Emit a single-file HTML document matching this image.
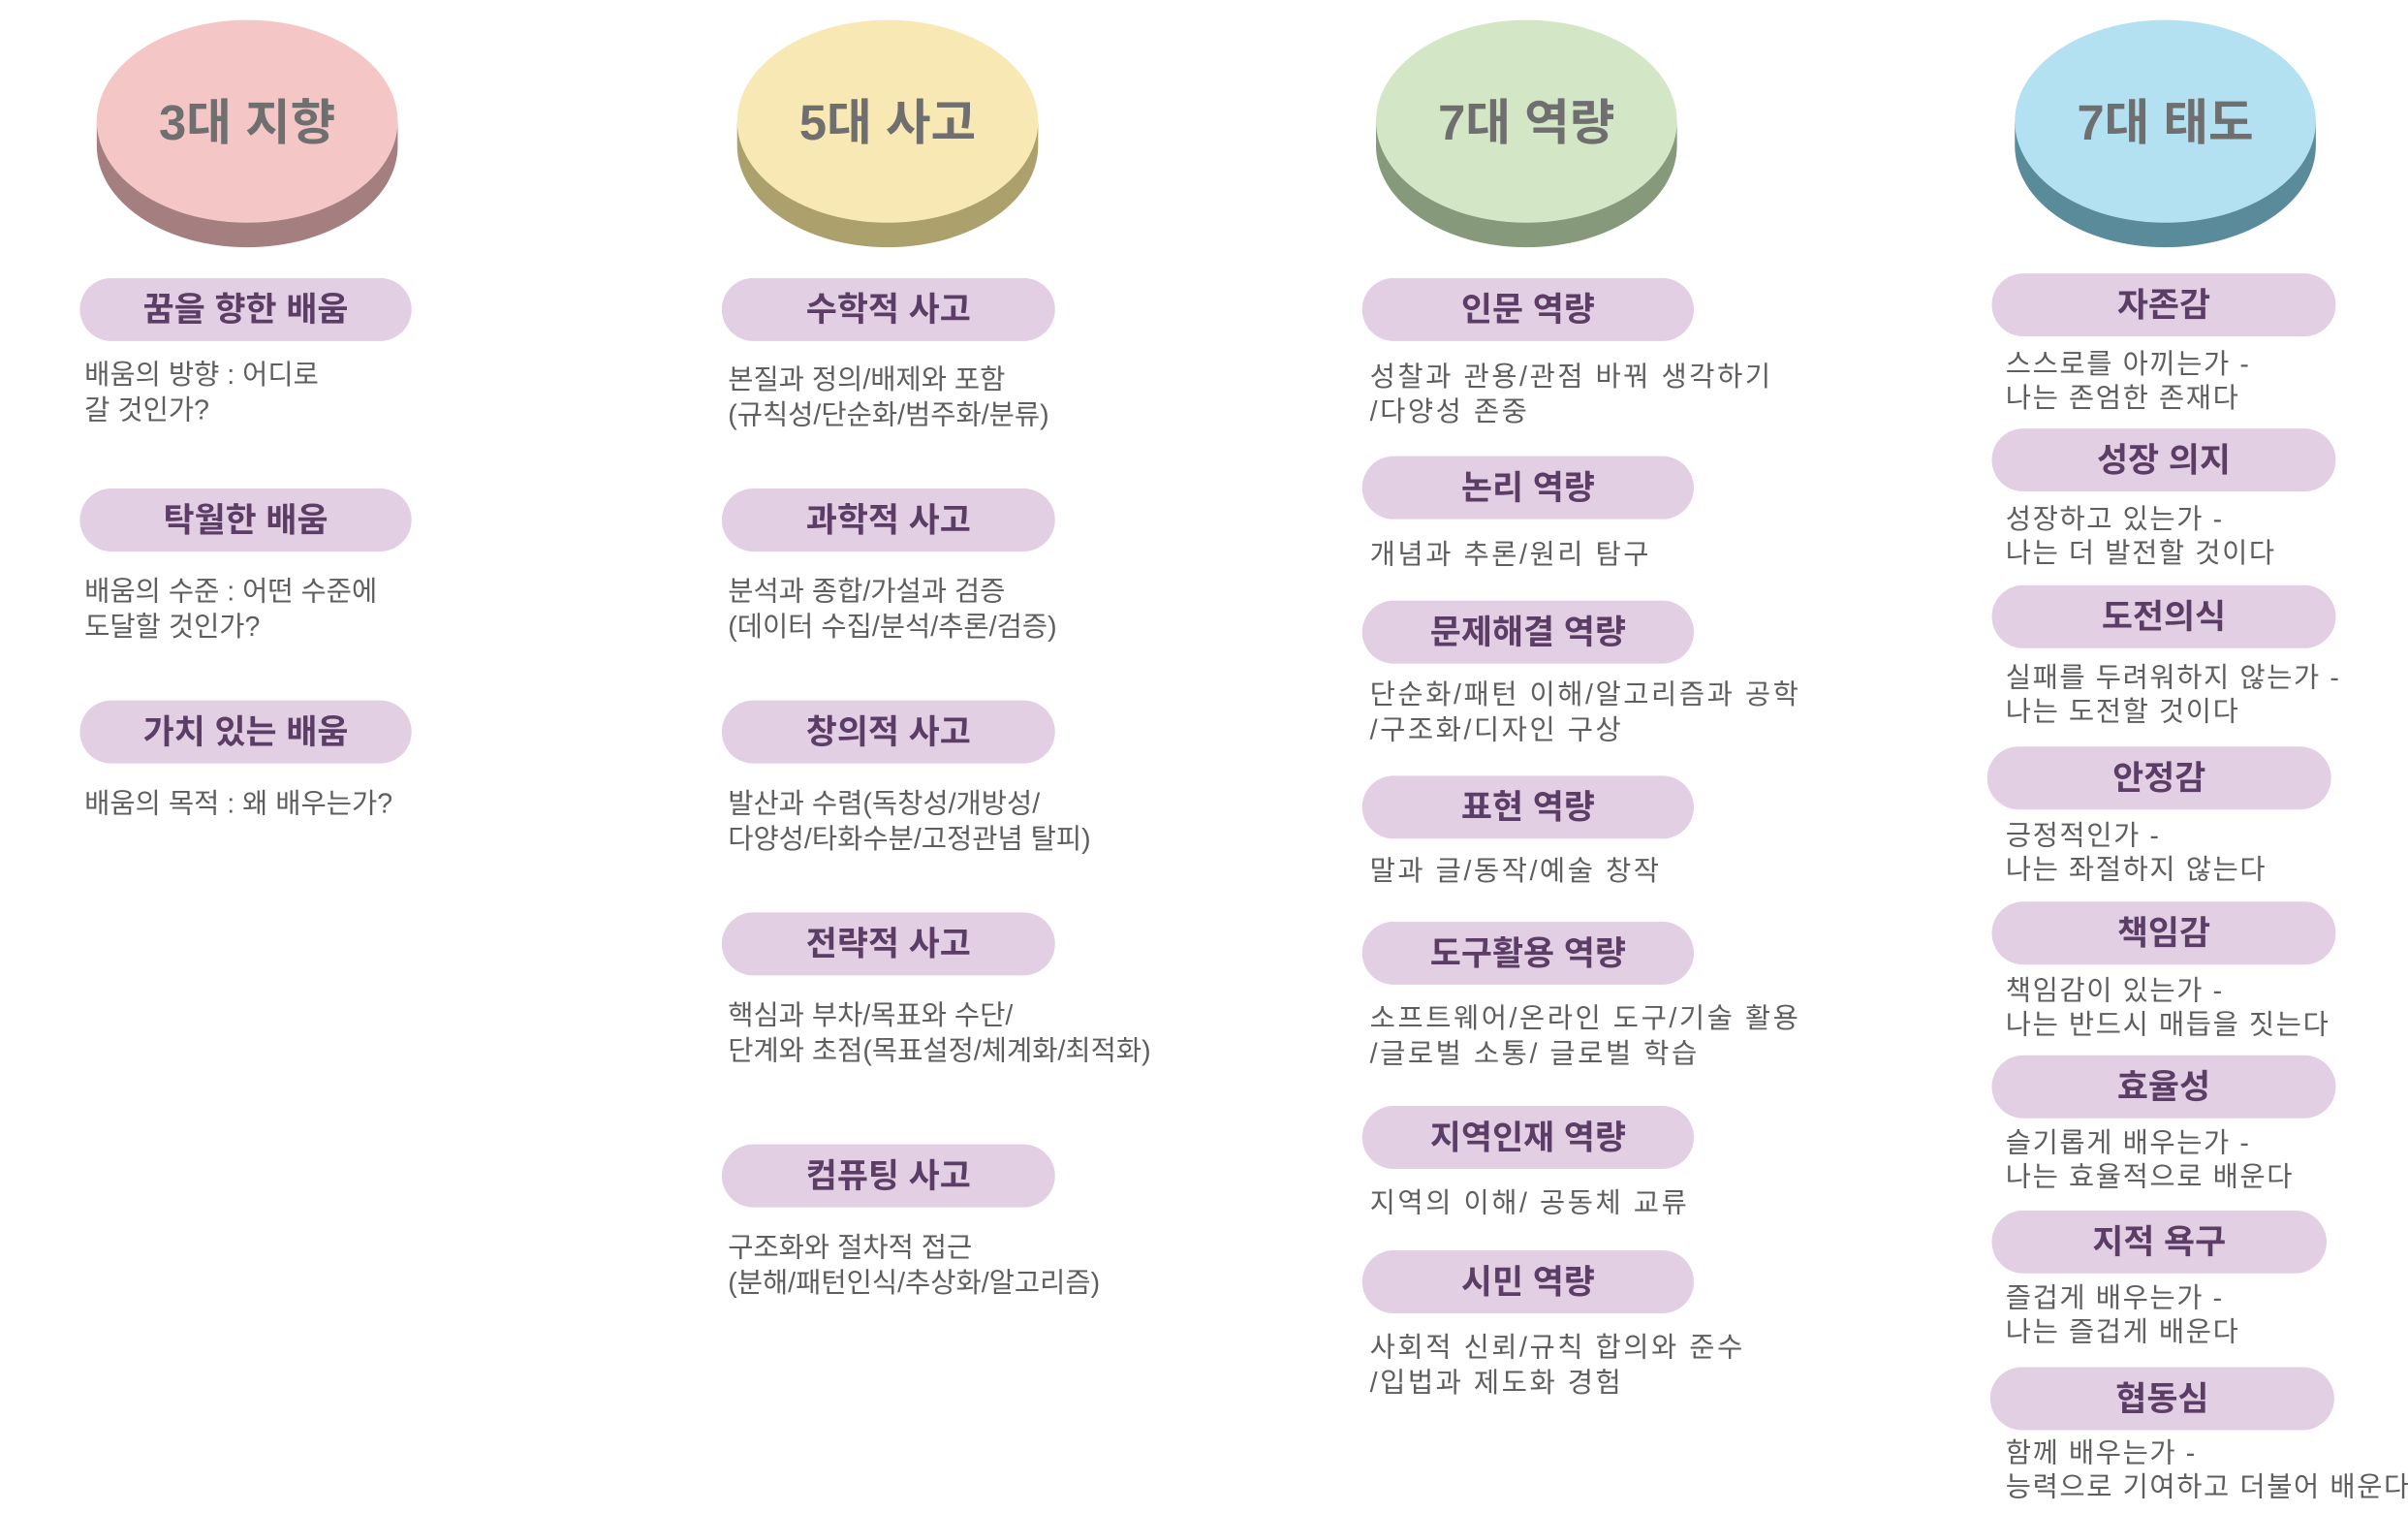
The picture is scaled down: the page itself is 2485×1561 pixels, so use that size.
<!DOCTYPE html>
<html><head><meta charset="utf-8">
<style>
html,body{margin:0;padding:0;background:#fff;}
body{width:2485px;height:1560px;overflow:hidden;position:relative;}
#wrap{position:absolute;left:0;top:0;width:1568px;height:985px;transform:scale(1.5848);transform-origin:0 0;font-family:"Liberation Sans","Noto Sans CJK KR","NanumGothic",sans-serif;}
.pill{position:absolute;height:41px;border-radius:21px;background:#e2cfe4;color:#5b3d66;font-weight:bold;font-size:22px;line-height:41px;text-align:center;}
.desc{position:absolute;color:#5e5e5e;font-size:18px;line-height:23px;white-space:nowrap;}
.wide{letter-spacing:1px;}
.wide3{letter-spacing:1.6px;}
svg{position:absolute;left:0;top:0;}
</style></head><body>
<div id="wrap">
<svg width="1568" height="985">
 <g>
  <path d="M63,80 L63,95 A98,66 0 0 0 259,95 L259,80 Z" fill="#a57f7f"/>
  <ellipse cx="161" cy="79" rx="98" ry="66" fill="#f5c6c6"/>
  <text x="161" y="91" font-size="32" font-weight="bold" fill="#6f6f6f" text-anchor="middle" font-family="Liberation Sans,Noto Sans CJK KR,sans-serif">3대 지향</text>
 </g>
 <g>
  <path d="M480,80 L480,95 A98,66 0 0 0 676,95 L676,80 Z" fill="#aca16c"/>
  <ellipse cx="578" cy="79" rx="98" ry="66" fill="#f8e9b4"/>
  <text x="578" y="91" font-size="32" font-weight="bold" fill="#6f6f6f" text-anchor="middle" font-family="Liberation Sans,Noto Sans CJK KR,sans-serif">5대 사고</text>
 </g>
 <g>
  <path d="M896,80 L896,95 A98,66 0 0 0 1092,95 L1092,80 Z" fill="#86997a"/>
  <ellipse cx="994" cy="79" rx="98" ry="66" fill="#d3e7c6"/>
  <text x="994" y="91" font-size="32" font-weight="bold" fill="#6f6f6f" text-anchor="middle" font-family="Liberation Sans,Noto Sans CJK KR,sans-serif">7대 역량</text>
 </g>
 <g>
  <path d="M1312,80 L1312,95 A98,66 0 0 0 1508,95 L1508,80 Z" fill="#5a8b9a"/>
  <ellipse cx="1410" cy="79" rx="98" ry="66" fill="#b3e1f1"/>
  <text x="1410" y="91" font-size="32" font-weight="bold" fill="#6f6f6f" text-anchor="middle" font-family="Liberation Sans,Noto Sans CJK KR,sans-serif">7대 태도</text>
 </g>
</svg>

<!-- column 1 -->
<div class="pill" style="left:52px;top:181px;width:216px;">꿈을 향한 배움</div>
<div class="desc" style="left:55px;top:233px;">배움의 방향 : 어디로<br>갈 것인가?</div>
<div class="pill" style="left:52px;top:318px;width:216px;">탁월한 배움</div>
<div class="desc" style="left:55px;top:374px;">배움의 수준 : 어떤 수준에<br>도달할 것인가?</div>
<div class="pill" style="left:52px;top:456px;width:216px;">가치 있는 배움</div>
<div class="desc" style="left:55px;top:512px;">배움의 목적 : 왜 배우는가?</div>

<!-- column 2 -->
<div class="pill" style="left:470px;top:181px;width:217px;">수학적 사고</div>
<div class="desc" style="left:474px;top:236px;">본질과 정의/배제와 포함<br>(규칙성/단순화/범주화/분류)</div>
<div class="pill" style="left:470px;top:318px;width:217px;">과학적 사고</div>
<div class="desc" style="left:474px;top:374px;">분석과 종합/가설과 검증<br>(데이터 수집/분석/추론/검증)</div>
<div class="pill" style="left:470px;top:456px;width:217px;">창의적 사고</div>
<div class="desc" style="left:474px;top:512px;">발산과 수렴(독창성/개방성/<br>다양성/타화수분/고정관념 탈피)</div>
<div class="pill" style="left:470px;top:594px;width:217px;">전략적 사고</div>
<div class="desc" style="left:474px;top:650px;">핵심과 부차/목표와 수단/<br>단계와 초점(목표설정/체계화/최적화)</div>
<div class="pill" style="left:470px;top:745px;width:217px;">컴퓨팅 사고</div>
<div class="desc" style="left:474px;top:801px;">구조화와 절차적 접근<br>(분해/패턴인식/추상화/알고리즘)</div>

<!-- column 3 -->
<div class="pill" style="left:887px;top:181px;width:216px;">인문 역량</div>
<div class="desc wide3" style="left:892px;top:234px;">성찰과 관용/관점 바꿔 생각하기<br>/다양성 존중</div>
<div class="pill" style="left:887px;top:297px;width:216px;">논리 역량</div>
<div class="desc wide3" style="left:892px;top:350px;">개념과 추론/원리 탐구</div>
<div class="pill" style="left:887px;top:391px;width:216px;">문제해결 역량</div>
<div class="desc wide3" style="left:892px;top:441px;">단순화/패턴 이해/알고리즘과 공학<br>/구조화/디자인 구상</div>
<div class="pill" style="left:887px;top:505px;width:216px;">표현 역량</div>
<div class="desc wide3" style="left:892px;top:556px;">말과 글/동작/예술 창작</div>
<div class="pill" style="left:887px;top:600px;width:216px;">도구활용 역량</div>
<div class="desc wide3" style="left:892px;top:652px;">소프트웨어/온라인 도구/기술 활용<br>/글로벌 소통/ 글로벌 학습</div>
<div class="pill" style="left:887px;top:720px;width:216px;">지역인재 역량</div>
<div class="desc wide3" style="left:892px;top:772px;">지역의 이해/ 공동체 교류</div>
<div class="pill" style="left:887px;top:814px;width:216px;">시민 역량</div>
<div class="desc wide3" style="left:892px;top:866px;">사회적 신뢰/규칙 합의와 준수<br>/입법과 제도화 경험</div>

<!-- column 4 -->
<div class="pill" style="left:1297px;top:178px;width:224px;">자존감</div>
<div class="desc wide" style="left:1306px;top:226px;line-height:22px;">스스로를 아끼는가 -<br>나는 존엄한 존재다</div>
<div class="pill" style="left:1297px;top:279px;width:224px;">성장 의지</div>
<div class="desc wide" style="left:1306px;top:327px;line-height:22px;">성장하고 있는가 -<br>나는 더 발전할 것이다</div>
<div class="pill" style="left:1297px;top:381px;width:224px;">도전의식</div>
<div class="desc wide" style="left:1306px;top:430px;line-height:22px;">실패를 두려워하지 않는가 -<br>나는 도전할 것이다</div>
<div class="pill" style="left:1294px;top:486px;width:224px;">안정감</div>
<div class="desc wide" style="left:1306px;top:533px;line-height:22px;">긍정적인가 -<br>나는 좌절하지 않는다</div>
<div class="pill" style="left:1297px;top:587px;width:224px;">책임감</div>
<div class="desc wide" style="left:1306px;top:634px;line-height:22px;">책임감이 있는가 -<br>나는 반드시 매듭을 짓는다</div>
<div class="pill" style="left:1297px;top:687px;width:224px;">효율성</div>
<div class="desc wide" style="left:1306px;top:733px;line-height:22px;">슬기롭게 배우는가 -<br>나는 효율적으로 배운다</div>
<div class="pill" style="left:1297px;top:788px;width:218px;">지적 욕구</div>
<div class="desc wide" style="left:1306px;top:834px;line-height:22px;">즐겁게 배우는가 -<br>나는 즐겁게 배운다</div>
<div class="pill" style="left:1296px;top:890px;width:224px;">협동심</div>
<div class="desc wide" style="left:1306px;top:935px;line-height:22px;">함께 배우는가 -<br>능력으로 기여하고 더불어 배운다</div>
</div>
</body></html>
